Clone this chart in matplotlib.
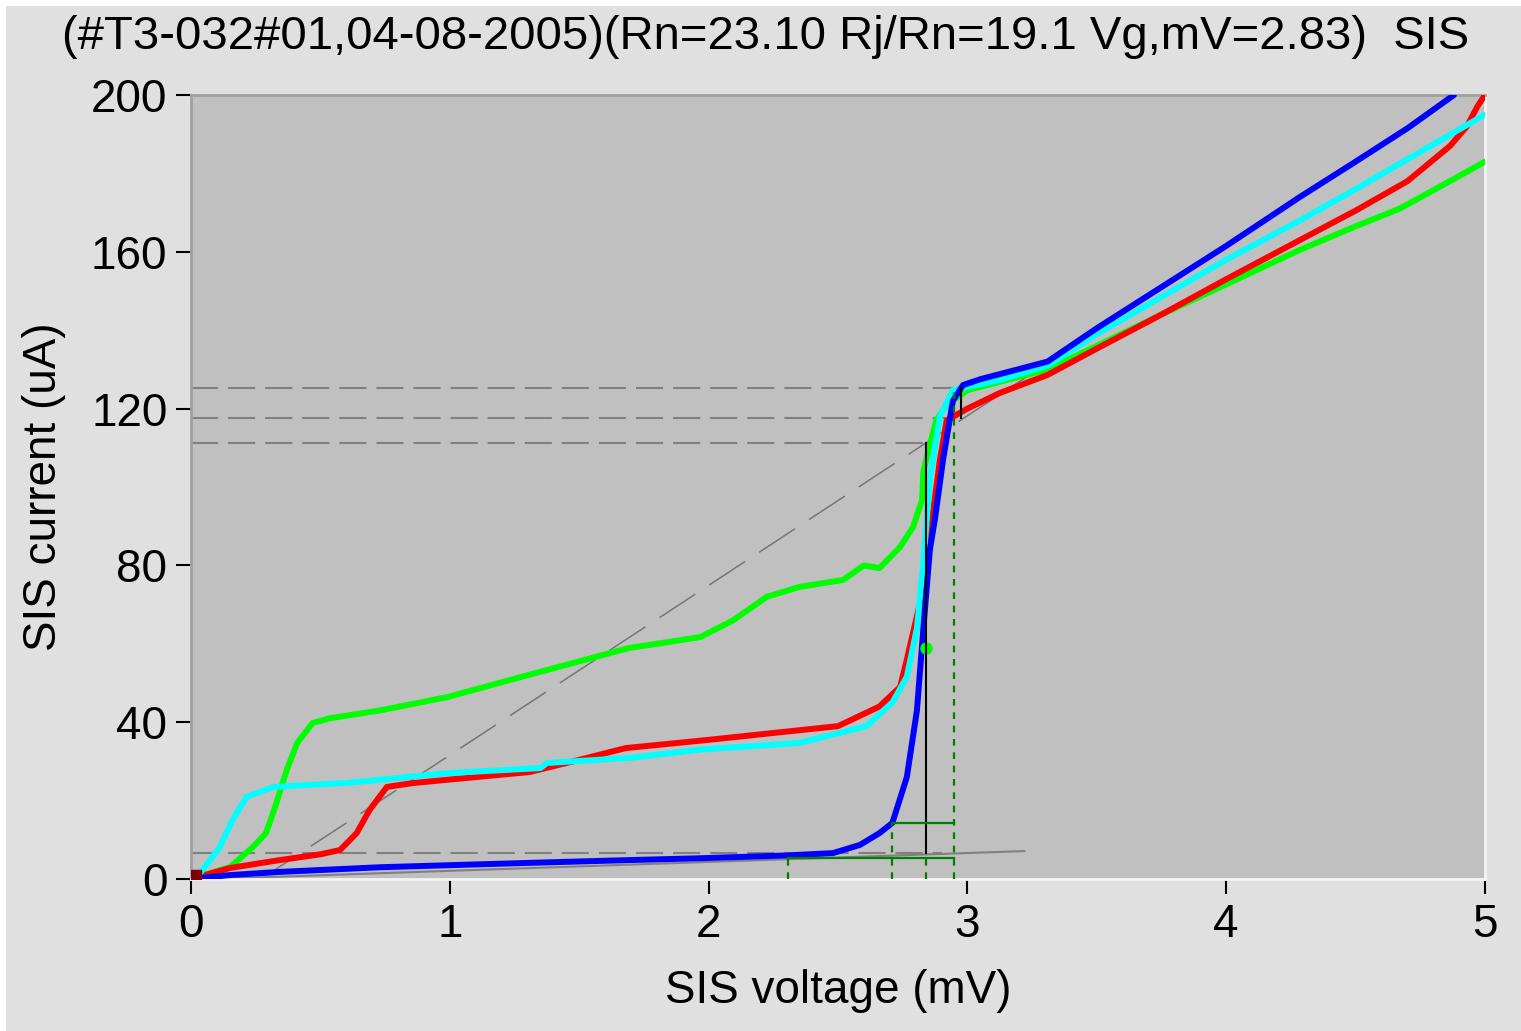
import matplotlib
matplotlib.use("Agg")
import matplotlib.pyplot as plt
import numpy as np

plt.rcParams['font.family'] = ['Liberation Sans', 'DejaVu Sans']

# I-V curves (mV, uA)
v_blue = [0, 0.15, 0.34, 0.73, 1.245, 1.68, 1.97, 2.3, 2.48, 2.585, 2.66, 2.71, 2.766, 2.805,
          2.83, 2.855, 2.875, 2.906, 2.944, 2.983, 3.05, 3.31, 3.5, 3.75, 4.0, 4.285, 4.5, 4.7, 4.88]
i_blue = [0, 1, 1.8, 3, 4, 4.8, 5.3, 6, 6.6, 8.7, 11.7, 14.3, 26, 43,
          64, 84, 92, 107, 122, 126, 127.5, 132, 140.5, 151, 161.5, 174, 183, 191.5, 200]

v_red = [0, 0.15, 0.34, 0.5, 0.576, 0.64, 0.69, 0.757, 0.86, 1.31, 1.5, 1.68, 2.0, 2.5, 2.66,
         2.74, 2.766, 2.84, 2.868, 2.894, 2.92, 3.0, 3.126, 3.31, 3.5, 3.75, 4.0, 4.285, 4.5,
         4.7, 4.865, 4.93, 4.97, 5.0]
i_red = [0, 2.8, 4.8, 6.3, 7.4, 11.7, 17.6, 23.5, 24.5, 27.3, 30.4, 33.4, 35.5, 39, 44,
         49, 56, 77, 94, 107, 117, 120, 124, 128.6, 135.3, 144, 153, 163, 170.5,
         178, 187, 192, 197, 200]

v_cyan = [0, 0.035, 0.11, 0.16, 0.215, 0.32, 0.6, 0.99, 1.35, 1.375, 1.696, 1.967, 2.35, 2.61,
          2.71, 2.766, 2.805, 2.83, 2.856, 2.894, 2.944, 3.126, 3.31, 3.5, 3.75, 4.0, 4.285,
          4.5, 4.75, 5.0]
i_cyan = [0, 1.5, 8, 15, 21, 23.5, 24.5, 27, 28.3, 29.6, 30.9, 33, 34.7, 39,
          45, 51.6, 64, 81, 102.6, 118, 124.7, 127.3, 131, 139, 148.5, 158, 168,
          176, 185.5, 195]

v_green = [0, 0.046, 0.15, 0.24, 0.29, 0.33, 0.37, 0.41, 0.47, 0.537, 0.73, 0.99, 1.245, 1.375,
           1.69, 1.967, 2.095, 2.225, 2.35, 2.52, 2.6, 2.66, 2.74, 2.79, 2.825, 2.83, 2.856,
           2.88, 2.92, 3.0, 3.31, 3.5, 3.75, 4.0, 4.285, 4.5, 4.67, 4.85, 5.0]
i_green = [0, 1, 3, 8.2, 11.7, 19.4, 27.8, 34.7, 39.8, 41, 43, 46.4, 51, 53.3,
           58.9, 61.7, 66, 72, 74.5, 76.3, 80, 79.3, 84.7, 89.8, 96.7, 104, 111,
           117, 121, 124.7, 130, 136, 144, 151.7, 160.5, 166.5, 171, 177.5, 183]

# markers / guide levels
vg = 2.84
i_levels = [125.3, 117.6, 111.2]
i_low = 6.6
rn = 23.1
rn_v0 = 0.27
rsg = 441.0
rsg_v0 = 0.08

fig = plt.figure(figsize=(15.21, 10.31), dpi=100)
fig.patch.set_facecolor('white')
fig.patches.append(plt.Rectangle((6 / 1521, 0), 1, 1 - 6 / 1031, transform=fig.transFigure,
                                 facecolor='#e0e0e0', edgecolor='none', zorder=-10))

ax = fig.add_axes([191 / 1521, 1 - 879 / 1031, (1485 - 191) / 1521, (879 - 95) / 1031])
ax.set_facecolor('#c0c0c0')

lw = 4.3
kw = dict(lw=lw, solid_joinstyle='round', solid_capstyle='round')
ax.plot(v_green, i_green, color='#00ff00', zorder=3, **kw)
ax.plot(v_red, i_red, color='#ff0000', zorder=4, **kw)
ax.plot(v_cyan, i_cyan, color='#00ffff', zorder=5, **kw)
ax.plot(v_blue, i_blue, color='#0000ff', zorder=6, **kw)
ax.plot([0.02], [1], marker='s', ms=7, color='#800000', zorder=7)
ax.plot([vg], [59], marker='o', ms=9, color='#00ff00', mec='none', zorder=7)

# guide lines
gray = '#808080'
dash = (0, (13, 4.8))
ax.plot([0, 2.96], [i_levels[0]] * 2, color=gray, lw=1.5, ls=dash, zorder=2)
ax.plot([0, 2.95], [i_levels[1]] * 2, color=gray, lw=1.5, ls=dash, zorder=2)
ax.plot([0, vg], [i_levels[2]] * 2, color=gray, lw=1.5, ls=dash, zorder=2)
ax.plot([0, 2.9], [i_low] * 2, color=gray, lw=1.5, ls=dash, zorder=2)

# normal-state resistance line
v_rn = np.array([rn_v0, 3.35])
ax.plot(v_rn, (v_rn - rn_v0) / rn * 1000, color='#767676', lw=1.1, ls=(0, (28, 11)), zorder=2)
# subgap resistance line
v_sg = np.array([rsg_v0, 3.22])
ax.plot(v_sg, (v_sg - rsg_v0) / rsg * 1000, color=gray, lw=1.5, zorder=2)

ax.plot([vg, vg], [i_low, i_levels[2]], color='black', lw=1.5, zorder=8)
ax.plot([2.977, 2.977], [i_levels[1], i_levels[0]], color='black', lw=1.5, zorder=8)

dgreen = '#008000'
gdot = (0, (3, 3))
for vx, top in [(2.307, 5.4), (2.709, 14.3), (vg, i_low), (2.95, i_levels[0])]:
    ax.plot([vx, vx], [0, top], color=dgreen, lw=1.6, ls=gdot, zorder=8)
ax.plot([2.709, 2.95], [14.3, 14.3], color=dgreen, lw=1.6, zorder=8)
ax.plot([2.307, 2.95], [5.4, 5.4], color=dgreen, lw=1.6, zorder=8)

ax.set_xlim(0, 5)
ax.set_ylim(0, 200)
ax.set_xticks([0, 1, 2, 3, 4, 5])
ax.set_yticks([0, 40, 80, 120, 160, 200])
ax.tick_params(direction='out', length=11, width=1.5, labelsize=33, pad=6, color='black')

for s in ['top', 'left']:
    ax.spines[s].set_color('#a0a0a0')
    ax.spines[s].set_linewidth(2)
for s in ['bottom', 'right']:
    ax.spines[s].set_color('#f4f4f4')
    ax.spines[s].set_linewidth(2)

ax.set_xlabel('SIS voltage (mV)', fontsize=33, labelpad=16)
ax.set_ylabel('SIS current (uA)', fontsize=33, labelpad=18)

fig.text(0.503, 0.964, '(#T3-032#01,04-08-2005)(Rn=23.10 Rj/Rn=19.1 Vg,mV=2.83)  SIS',
         fontsize=34, ha='center', va='center')

fig.savefig('out.png', dpi=100, facecolor=fig.get_facecolor())
